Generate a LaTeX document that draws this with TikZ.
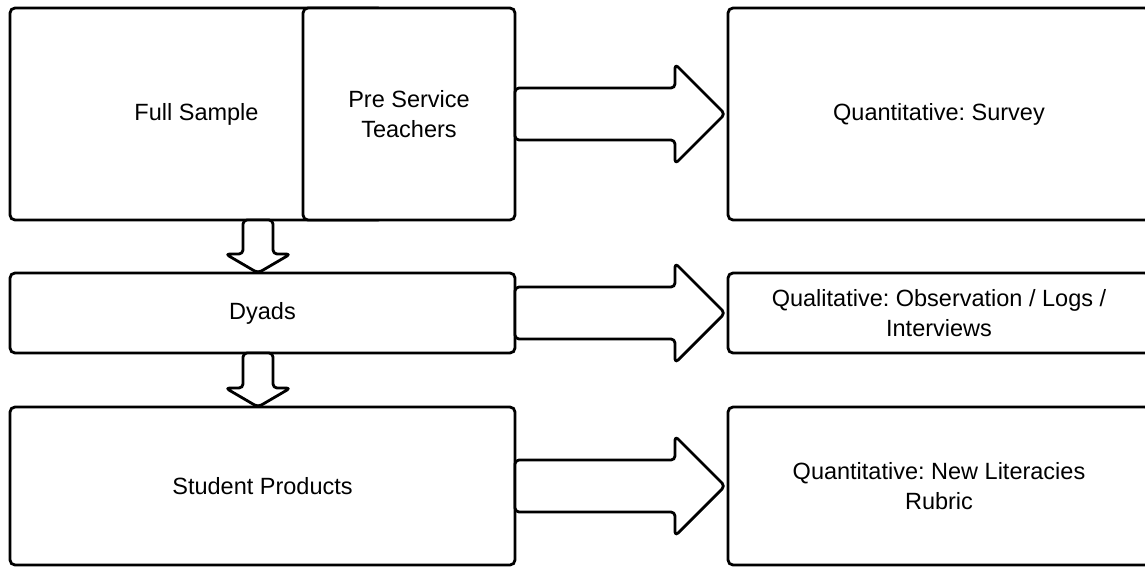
\documentclass[tikz,border=0pt]{standalone}
\usepackage{fontspec}
\setmainfont{Liberation Sans}
\frenchspacing
\usetikzlibrary{calc}
\tikzset{
  box/.style={draw=black, fill=white, line width=2.8pt, rounded corners=5pt,
    inner sep=0pt, outer sep=0pt, align=center,
    font=\fontsize{23.5}{29.5}\selectfont},
  barrow/.style={draw=black, fill=white, line width=2.8pt, rounded corners=4pt, line join=round}
}
\begin{document}
\begin{tikzpicture}[x=1pt, y=-1pt]
\useasboundingbox (0,0) rectangle (1145,566);
\clip (0,0) rectangle (1145,566);
% left column
\node[box, minimum width=373pt, minimum height=212pt] (fs) at (196.5,114) {Full Sample};
\node[box, minimum width=212pt, minimum height=212pt] (ps) at (409,114) {Pre Service\\Teachers};
\node[box, minimum width=505pt, minimum height=80pt] (dy) at (262.5,313) {Dyads};
\node[box, minimum width=505pt, minimum height=158pt] (sp) at (262.5,486) {Student Products};
% right column
\node[box, minimum width=422pt, minimum height=212pt] (qs) at (939,114) {Quantitative: Survey};
\node[box, minimum width=422pt, minimum height=80pt] (ql) at (939,313) {Qualitative: Observation / Logs /\\Interviews};
\node[box, minimum width=422pt, minimum height=158pt] (qn) at (939,486) {Quantitative: New Literacies\\Rubric};
% horizontal block arrows
\foreach \a/\b in {ps/qs, dy/ql, sp/qn}{
  \draw[barrow] ([yshift=26pt]\a.east) -| ([xshift=-53pt,yshift=50pt]\b.west)
    -- ([xshift=-3pt]\b.west)
    -- ([xshift=-53pt,yshift=-50pt]\b.west) |- ([yshift=-26pt]\a.east) -- cycle;
}
% vertical block arrows
\coordinate (t1) at ($(fs.south -| dy.north)+(-4.5,0)$);
\coordinate (h1) at ($(dy.north)+(-4.5,0)$);
\coordinate (t2) at ($(dy.south)+(-4.5,0)$);
\coordinate (h2) at ($(sp.north)+(-4.5,0)$);
\foreach \t/\h in {t1/h1, t2/h2}{
  \draw[barrow] ([xshift=-15pt]\t) |- ([xshift=-32.5pt,yshift=19pt]\h)
    -- (\h)
    -- ([xshift=32.5pt,yshift=19pt]\h) -| ([xshift=15pt]\t) -- cycle;
}
\end{tikzpicture}
\end{document}
